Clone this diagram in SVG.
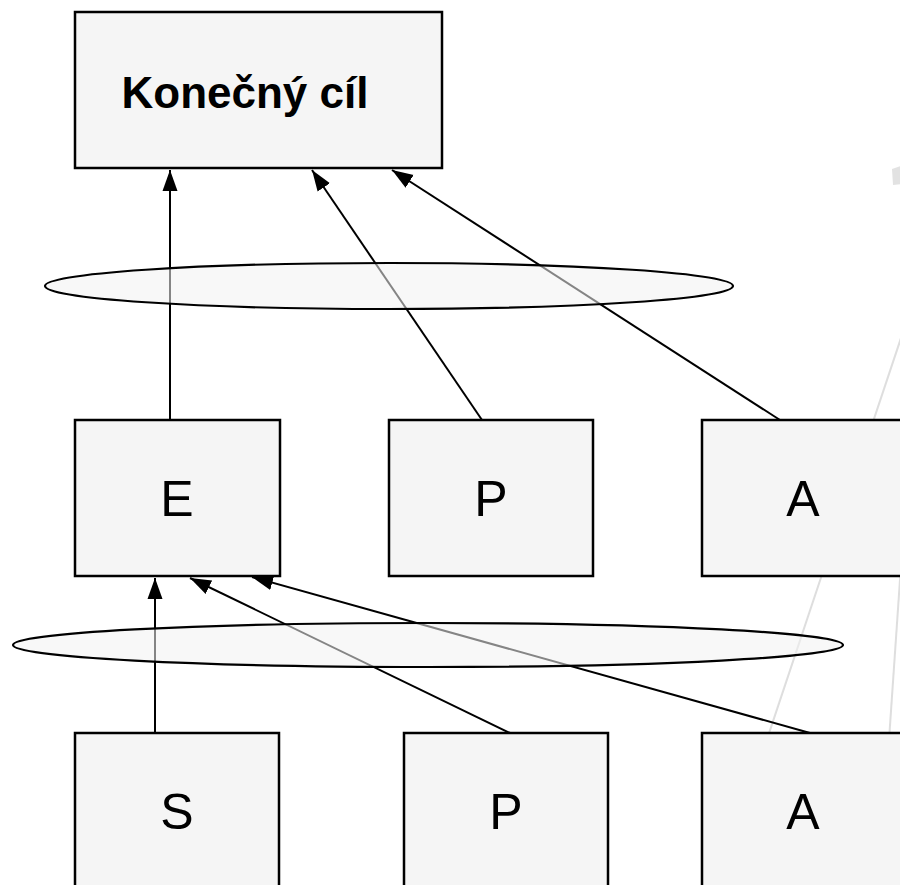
<svg xmlns="http://www.w3.org/2000/svg" width="900" height="885" viewBox="0 0 900 885">
<style>
.box{fill:#f5f5f5;stroke:#000;stroke-width:2.5}
.ell{fill:#f2f2f2;fill-opacity:0.55;stroke:#000;stroke-width:2.2}
.lbl{font-family:"Liberation Sans",Arial,sans-serif;font-size:50px;fill:#000;text-anchor:middle}
.title{font-weight:bold;font-size:44px}
.con{stroke:#000;stroke-width:2;fill:none;marker-end:url(#ah)}
.deco{stroke:#dedede;stroke-width:2;fill:none}
</style>
<defs>
<marker id="ah" markerUnits="userSpaceOnUse" markerWidth="24" markerHeight="24" viewBox="0 0 24 24" refX="21" refY="12" orient="auto">
<path d="M0,4.5 L21,12 L0,19.5 Z" fill="#000"/>
</marker>
</defs>
<rect width="900" height="885" fill="#fff"/>
<g id="decor">
<line class="deco" x1="901" y1="338" x2="718" y2="886"/>
<line class="deco" x1="901" y1="565" x2="879" y2="886"/>
<polygon points="892,169 901,166 901,184 893,185" fill="#e2e2e2"/>
</g>
<g id="node-goal"><rect class="box" x="75" y="12" width="367" height="156"/><text class="lbl title" x="245" y="108">Konečný cíl</text></g>
<g id="node-E"><rect class="box" x="75" y="420" width="205" height="156"/><text class="lbl" x="177" y="516">E</text></g>
<g id="node-P1"><rect class="box" x="389" y="420" width="204" height="156"/><text class="lbl" x="491" y="516">P</text></g>
<g id="node-A1"><rect class="box" x="702" y="420" width="204" height="156"/><text class="lbl" x="803" y="516">A</text></g>
<g id="node-S"><rect class="box" x="75" y="733" width="204" height="156"/><text class="lbl" x="177" y="829">S</text></g>
<g id="node-P2"><rect class="box" x="404" y="733" width="204" height="156"/><text class="lbl" x="506" y="829">P</text></g>
<g id="node-A2"><rect class="box" x="702" y="733" width="204" height="156"/><text class="lbl" x="803" y="829">A</text></g>
<g id="connectors">
<line class="con" x1="170" y1="420" x2="170" y2="170"/>
<line class="con" x1="482" y1="420" x2="312" y2="170"/>
<line class="con" x1="780" y1="420" x2="392" y2="170"/>
<line class="con" x1="155" y1="733" x2="155" y2="578"/>
<line class="con" x1="510" y1="733" x2="190" y2="578"/>
<line class="con" x1="810" y1="733" x2="252" y2="577"/>
</g>
<g id="ellipse-top"><ellipse class="ell" cx="389" cy="286" rx="344" ry="23"/></g>
<g id="ellipse-bottom"><ellipse class="ell" cx="428" cy="645" rx="415" ry="22"/></g>
</svg>
